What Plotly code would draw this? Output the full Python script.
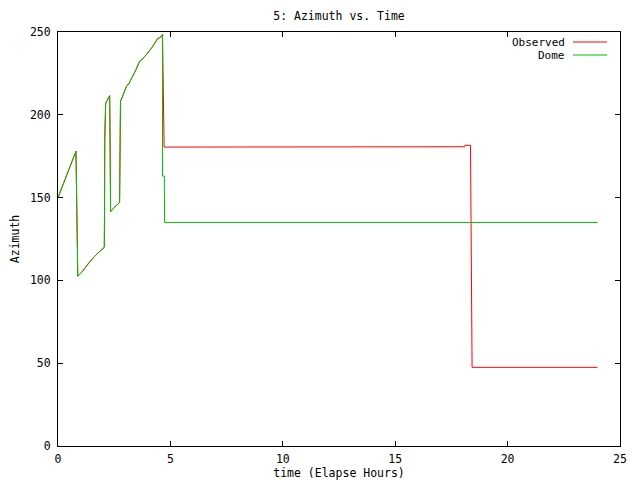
import plotly.graph_objects as go

# Shared early track (observed and dome coincide during the first ~4.65 h)
early_time = [0.00, 0.40, 0.80, 0.82, 0.85, 0.88, 1.08, 1.38, 1.68, 2.05,
              2.06, 2.07, 2.08, 2.12, 2.25, 2.30, 2.31, 2.33, 2.34, 2.50,
              2.72, 2.74, 2.75, 2.77, 2.78, 3.04, 3.16, 3.46, 3.61, 3.91,
              4.20, 4.43, 4.58, 4.65]
early_az = [150.0, 164.0, 178.0, 159.0, 122.0, 102.5, 105.3, 110.7, 115.3, 119.6,
            120.0, 141.0, 185.0, 207.0, 210.0, 211.5, 194.0, 160.0, 141.5, 144.0,
            146.6, 147.0, 162.0, 192.0, 208.0, 217.0, 219.0, 227.0, 231.7, 236.0,
            241.0, 246.0, 247.0, 248.6]

obs_late_time = [4.66, 4.68, 4.70, 4.72, 18.09, 18.10, 18.35, 18.36, 18.38, 18.42, 24.0]
obs_late_az = [231.0, 220.0, 197.0, 180.5, 180.7, 181.6, 181.6, 148.0, 81.0, 47.5, 47.5]

dome_late_time = [4.65, 4.73, 4.74, 24.0]
dome_late_az = [163.0, 163.0, 135.0, 135.0]

obs_time = early_time + obs_late_time
obs_az = early_az + obs_late_az
dome_time = early_time + dome_late_time
dome_az = early_az + dome_late_az

x_ticks = [0, 5, 10, 15, 20, 25]
y_ticks = [0, 50, 100, 150, 200, 250]

RED = "#ff0000"
GREEN = "#00c000"
FONT = "DejaVu Sans Mono"
FS = 11.5
LEG_FS = 11

# page has an 8px body margin; figure sized so the plot box lands at 58..620 x 32..446
W, H = 632, 472
ML, MR, MT, MB = 50, 20, 24, 34
PW, PH = W - ML - MR, H - MT - MB

fig = go.Figure()
fig.add_trace(go.Scatter(x=obs_time, y=obs_az, mode="lines", name="Observed",
                         line=dict(color=RED, width=1), showlegend=False))
fig.add_trace(go.Scatter(x=dome_time, y=dome_az, mode="lines", name="Dome",
                         line=dict(color=GREEN, width=1), showlegend=False))

axis_common = dict(showgrid=False, zeroline=False, showline=True, linecolor="black",
                   linewidth=1, mirror="allticks", ticks="inside", ticklen=5,
                   tickcolor="black", automargin=False,
                   tickfont=dict(family=FONT, size=FS, color="black"))

fig.update_layout(
    width=W, height=H,
    margin=dict(l=ML, r=MR, t=MT, b=MB, pad=0, autoexpand=False),
    paper_bgcolor="white", plot_bgcolor="white",
    font=dict(family=FONT, size=FS, color="black"),
    title=dict(text="5: Azimuth vs. Time", x=(339 - 8) / W, xanchor="center",
               y=1 - 7.5 / H, yanchor="middle", automargin=False,
               font=dict(family=FONT, size=FS, color="black")),
    xaxis=dict(range=[0, 25], tickvals=x_ticks, ticktext=[str(v) for v in x_ticks],
               ticklabelstandoff=2,
               title=dict(text="time (Elapse Hours)", standoff=8,
                          font=dict(family=FONT, size=FS)), **axis_common),
    yaxis=dict(range=[0, 250], tickvals=y_ticks, ticktext=[str(v) for v in y_ticks],
               ticklabelstandoff=4,
               title=dict(text="Azimuth", standoff=14,
                          font=dict(family=FONT, size=FS)), **axis_common),
)

# gnuplot-style key: text right-aligned, sample line to its right
legend_items = [("Observed", RED, 42), ("Dome", GREEN, 55)]
for label, color, ypx in legend_items:
    yf = (446 - ypx) / PH
    fig.add_annotation(text=label, xref="paper", yref="paper", x=(566 - 58) / PW,
                       y=yf, xanchor="right", yanchor="middle", showarrow=False,
                       borderpad=0,
                       font=dict(family=FONT, size=LEG_FS, color="black"))
    fig.add_shape(type="line", xref="paper", yref="paper",
                  x0=(573 - 58) / PW, x1=(607 - 58) / PW, y0=yf, y1=yf,
                  line=dict(color=color, width=1))

fig.write_html("out.html")
